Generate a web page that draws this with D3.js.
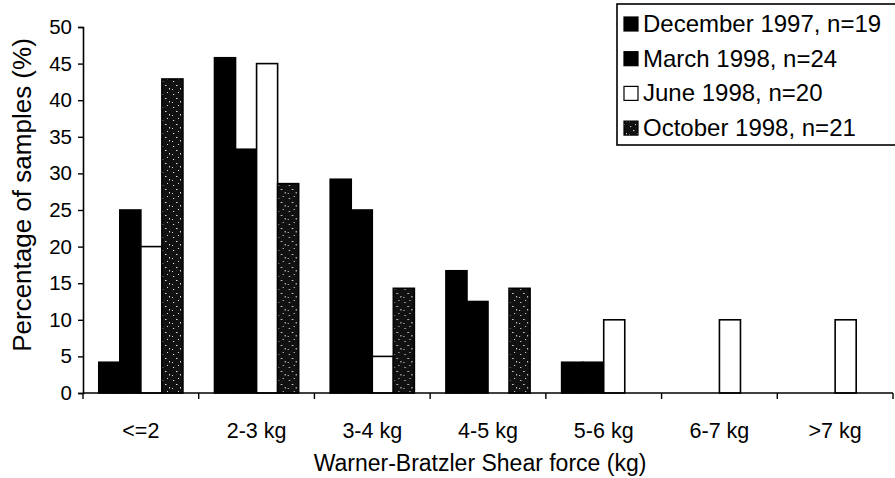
<!DOCTYPE html>
<html>
<head>
<meta charset="utf-8">
<script src="https://cdn.jsdelivr.net/npm/d3@7/dist/d3.min.js"></script>
<style>
  html, body { margin: 0; padding: 0; background: #fff; }
  svg { display: block; font-family: "Liberation Sans", Arial, sans-serif; }
</style>
</head>
<body>
<svg id="chart" width="895" height="478"></svg>
<script>
// Shear force classes (x axis)
const categories = ["<=2", "2-3 kg", "3-4 kg", "4-5 kg", "5-6 kg", "6-7 kg", ">7 kg"];
// Sampling occasions
const seriesNames = ["December 1997, n=19", "March 1998, n=24", "June 1998, n=20", "October 1998, n=21"];
// Percentage of samples in each class, per sampling occasion
const dec1997 = [4.2, 45.8, 29.2, 16.7, 4.2, 0, 0];
const mar1998 = [25, 33.3, 25, 12.5, 4.2, 0, 0];
const jun1998 = [20, 45, 5, 0, 10, 10, 10];
const oct1998 = [42.9, 28.6, 14.3, 14.3, 0, 0, 0];
const yTicks = [0, 5, 10, 15, 20, 25, 30, 35, 40, 45, 50];

const seriesValues = [dec1997, mar1998, jun1998, oct1998];

const svg = d3.select("#chart");
const plotLeft = 83, plotRight = 893, plotTop = 27, plotBottom = 393;

// Speckled fill for October
const defs = svg.append("defs");
const pat = defs.append("pattern")
  .attr("id", "speckle").attr("patternUnits", "userSpaceOnUse")
  .attr("width", 11).attr("height", 13);
pat.append("rect").attr("width", 11).attr("height", 13).attr("fill", "#111");
[[2, 3, 1.2, 1], [7, 1, 1, 1], [5, 7, 1.5, 1], [9, 10, 1, 1.5], [1, 11, 1, 1]].forEach(d => {
  pat.append("rect").attr("x", d[0]).attr("y", d[1]).attr("width", d[2]).attr("height", d[3]).attr("fill", "#ddd");
});

const fills = ["#000", "#000", "#fff", "url(#speckle)"];

const x0 = d3.scaleBand().domain(categories).range([plotLeft, plotRight]).padding(0);
const x1 = d3.scaleBand().domain(seriesNames).range([0, x0.bandwidth()])
  .paddingInner(0).paddingOuter(0.75);
const y = d3.scaleLinear().domain([0, 50]).range([plotBottom, plotTop]);

// Bars
const groups = svg.append("g").selectAll("g")
  .data(categories).join("g")
  .attr("transform", d => `translate(${x0(d)},0)`);

groups.selectAll("rect")
  .data((c, i) => seriesNames.map((s, k) => ({ s, k, v: seriesValues[k][i] })).filter(d => d.v > 0))
  .join("rect")
  .attr("x", d => x1(d.s))
  .attr("y", d => y(d.v))
  .attr("width", x1.bandwidth())
  .attr("height", d => y(0) - y(d.v))
  .attr("fill", d => fills[d.k])
  .attr("stroke", "#000")
  .attr("stroke-width", 1.6);

// Y axis
const yAxis = d3.axisLeft(y).tickValues(yTicks).tickSize(5).tickPadding(6);
const yg = svg.append("g").attr("transform", `translate(${plotLeft},0)`).call(yAxis);
yg.select(".domain").attr("stroke-width", 1.6);
yg.selectAll(".tick line").attr("stroke-width", 1.4);
yg.selectAll("text").attr("font-size", 20.5).attr("fill", "#000").attr("font-family", "Liberation Sans, Arial, sans-serif");

// X axis: boundary ticks between classes
const xg = svg.append("g").attr("transform", `translate(0,${plotBottom})`);
xg.append("line").attr("x1", plotLeft).attr("x2", plotRight).attr("stroke", "#000").attr("stroke-width", 1.6);
const bounds = categories.map(c => x0(c)).concat([plotRight]);
xg.selectAll("line.b").data(bounds).join("line").attr("class", "b")
  .attr("x1", d => d).attr("x2", d => d).attr("y1", 0).attr("y2", 6)
  .attr("stroke", "#000").attr("stroke-width", 1.4);
xg.selectAll("text").data(categories).join("text")
  .attr("x", d => x0(d) + x0.bandwidth() / 2)
  .attr("y", 45)
  .attr("text-anchor", "middle")
  .attr("font-size", 21.5)
  .text(d => d);

// Axis titles
svg.append("text")
  .attr("x", (plotLeft + plotRight) / 2 - 8).attr("y", 471)
  .attr("text-anchor", "middle").attr("font-size", 23)
  .text("Warner-Bratzler Shear force (kg)");
svg.append("text")
  .attr("transform", `translate(31,${(plotTop + plotBottom) / 2 - 15}) rotate(-90)`)
  .attr("text-anchor", "middle").attr("font-size", 26)
  .text("Percentage of samples (%)");

// Legend
const lg = svg.append("g").attr("transform", "translate(617,4)");
lg.append("rect").attr("width", 290).attr("height", 141)
  .attr("fill", "#fff").attr("stroke", "#000").attr("stroke-width", 1.6);
const rows = lg.selectAll("g.row").data(seriesNames).join("g").attr("class", "row")
  .attr("transform", (d, i) => `translate(0,${28 + i * 34.7})`);
rows.append("rect").attr("x", 7).attr("y", -15).attr("width", 14).attr("height", 14)
  .attr("fill", (d, i) => fills[i]).attr("stroke", "#000").attr("stroke-width", 1.2);
rows.append("text").attr("x", 26).attr("y", 0).attr("font-size", 24).text(d => d);
</script>
</body>
</html>
